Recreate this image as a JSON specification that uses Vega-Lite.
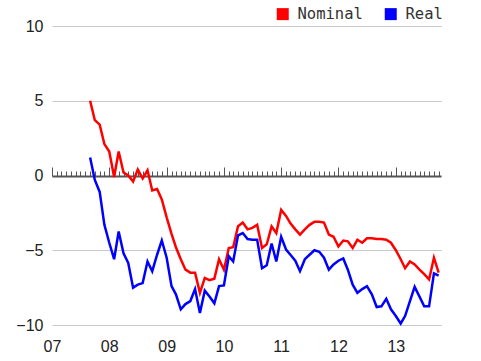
{
  "$schema": "https://vega.github.io/schema/vega-lite/v6.json",
  "width": 389,
  "height": 299,
  "autosize": "none",
  "padding": {"left": 52, "top": 26, "right": 40, "bottom": 36},
  "background": "white",
  "config": {"view": {"stroke": null}},
  "data": {"values": [
    {"d": "2007-09-01", "Nominal": 5.0, "Real": 1.2},
    {"d": "2007-10-01", "Nominal": 3.7, "Real": -0.3},
    {"d": "2007-11-01", "Nominal": 3.4, "Real": -1.1},
    {"d": "2007-12-01", "Nominal": 2.1, "Real": -3.3},
    {"d": "2008-01-01", "Nominal": 1.6, "Real": -4.5},
    {"d": "2008-02-01", "Nominal": -0.1, "Real": -5.6},
    {"d": "2008-03-01", "Nominal": 1.6, "Real": -3.75},
    {"d": "2008-04-01", "Nominal": 0.2, "Real": -5.2},
    {"d": "2008-05-01", "Nominal": 0.0, "Real": -5.85},
    {"d": "2008-06-01", "Nominal": -0.4, "Real": -7.5},
    {"d": "2008-07-01", "Nominal": 0.4, "Real": -7.3},
    {"d": "2008-08-01", "Nominal": -0.2, "Real": -7.2},
    {"d": "2008-09-01", "Nominal": 0.35, "Real": -5.75},
    {"d": "2008-10-01", "Nominal": -1.0, "Real": -6.4},
    {"d": "2008-11-01", "Nominal": -0.9, "Real": -5.3},
    {"d": "2008-12-01", "Nominal": -1.6, "Real": -4.35},
    {"d": "2009-01-01", "Nominal": -2.8, "Real": -5.5},
    {"d": "2009-02-01", "Nominal": -3.9, "Real": -7.4},
    {"d": "2009-03-01", "Nominal": -4.8, "Real": -7.95},
    {"d": "2009-04-01", "Nominal": -5.6, "Real": -8.95},
    {"d": "2009-05-01", "Nominal": -6.3, "Real": -8.6},
    {"d": "2009-06-01", "Nominal": -6.5, "Real": -8.4},
    {"d": "2009-07-01", "Nominal": -6.5, "Real": -7.6},
    {"d": "2009-08-01", "Nominal": -7.85, "Real": -9.2},
    {"d": "2009-09-01", "Nominal": -6.85, "Real": -7.7},
    {"d": "2009-10-01", "Nominal": -7.0, "Real": -8.1},
    {"d": "2009-11-01", "Nominal": -6.9, "Real": -8.55},
    {"d": "2009-12-01", "Nominal": -5.6, "Real": -7.4},
    {"d": "2010-01-01", "Nominal": -6.3, "Real": -7.35},
    {"d": "2010-02-01", "Nominal": -4.85, "Real": -5.4},
    {"d": "2010-03-01", "Nominal": -4.8, "Real": -5.75},
    {"d": "2010-04-01", "Nominal": -3.4, "Real": -4.0},
    {"d": "2010-05-01", "Nominal": -3.15, "Real": -3.85},
    {"d": "2010-06-01", "Nominal": -3.6, "Real": -4.25},
    {"d": "2010-07-01", "Nominal": -3.5, "Real": -4.3},
    {"d": "2010-08-01", "Nominal": -3.3, "Real": -4.3},
    {"d": "2010-09-01", "Nominal": -4.85, "Real": -6.2},
    {"d": "2010-10-01", "Nominal": -4.6, "Real": -6.0},
    {"d": "2010-11-01", "Nominal": -3.4, "Real": -4.55},
    {"d": "2010-12-01", "Nominal": -3.85, "Real": -5.75},
    {"d": "2011-01-01", "Nominal": -2.3, "Real": -4.1},
    {"d": "2011-02-01", "Nominal": -2.7, "Real": -4.95},
    {"d": "2011-03-01", "Nominal": -3.2, "Real": -5.3},
    {"d": "2011-04-01", "Nominal": -3.6, "Real": -5.7},
    {"d": "2011-05-01", "Nominal": -3.95, "Real": -6.4},
    {"d": "2011-06-01", "Nominal": -3.6, "Real": -5.6},
    {"d": "2011-07-01", "Nominal": -3.3, "Real": -5.3},
    {"d": "2011-08-01", "Nominal": -3.1, "Real": -5.0},
    {"d": "2011-09-01", "Nominal": -3.1, "Real": -5.1},
    {"d": "2011-10-01", "Nominal": -3.15, "Real": -5.5},
    {"d": "2011-11-01", "Nominal": -3.95, "Real": -6.3},
    {"d": "2011-12-01", "Nominal": -4.1, "Real": -5.95},
    {"d": "2012-01-01", "Nominal": -4.75, "Real": -5.7},
    {"d": "2012-02-01", "Nominal": -4.35, "Real": -5.55},
    {"d": "2012-03-01", "Nominal": -4.4, "Real": -6.3},
    {"d": "2012-04-01", "Nominal": -4.85, "Real": -7.3},
    {"d": "2012-05-01", "Nominal": -4.3, "Real": -7.85},
    {"d": "2012-06-01", "Nominal": -4.5, "Real": -7.6},
    {"d": "2012-07-01", "Nominal": -4.2, "Real": -7.4},
    {"d": "2012-08-01", "Nominal": -4.2, "Real": -7.95},
    {"d": "2012-09-01", "Nominal": -4.25, "Real": -8.8},
    {"d": "2012-10-01", "Nominal": -4.25, "Real": -8.75},
    {"d": "2012-11-01", "Nominal": -4.3, "Real": -8.25},
    {"d": "2012-12-01", "Nominal": -4.5, "Real": -8.95},
    {"d": "2013-01-01", "Nominal": -5.0, "Real": -9.4},
    {"d": "2013-02-01", "Nominal": -5.6, "Real": -9.9},
    {"d": "2013-03-01", "Nominal": -6.2, "Real": -9.4},
    {"d": "2013-04-01", "Nominal": -5.75, "Real": -8.4},
    {"d": "2013-05-01", "Nominal": -5.95, "Real": -7.45},
    {"d": "2013-06-01", "Nominal": -6.3, "Real": -8.1},
    {"d": "2013-07-01", "Nominal": -6.6, "Real": -8.75},
    {"d": "2013-08-01", "Nominal": -6.95, "Real": -8.75},
    {"d": "2013-09-01", "Nominal": -5.5, "Real": -6.55},
    {"d": "2013-10-01", "Nominal": -6.5, "Real": -6.7}
  ]},
  "transform": [{"fold": ["Nominal", "Real"], "as": ["series", "value"]}],
  "encoding": {
    "y": {
      "field": "value", "type": "quantitative",
      "scale": {"domain": [-10, 10], "nice": false, "zero": false},
      "axis": {
        "title": null, "values": [-10, -5, 0, 5, 10], "grid": true, "gridColor": "#c8c8c8", "gridWidth": 1,
        "domain": false, "ticks": false, "labelPadding": 9,
        "labelFont": "Liberation Sans", "labelFontSize": 16, "labelColor": "#222"
      }
    }
  },
  "layer": [
    {
      "mark": {"type": "line", "opacity": 0},
      "encoding": {
        "x": {
          "field": "d", "type": "temporal",
          "scale": {"domain": [{"year": 2007, "month": 1, "date": 1}, {"year": 2013, "month": 10, "date": 16}]},
          "axis": {
            "orient": "top", "offset": -150, "title": null, "labels": false, "grid": false,
            "domain": true, "domainColor": "#555", "domainWidth": 2,
            "ticks": true, "tickColor": "#555", "tickWidth": 1,
            "tickSize": {"condition": {"test": "month(datum.value) === 0", "value": 9}, "value": 5},
            "tickCount": {"interval": "month", "step": 1}
          }
        },
        "detail": {"field": "series"}
      }
    },
    {
      "mark": {"type": "line", "strokeWidth": 2.5},
      "encoding": {
        "x": {
          "field": "d", "type": "temporal",
          "scale": {"domain": [{"year": 2007, "month": 1, "date": 1}, {"year": 2013, "month": 10, "date": 16}]},
          "axis": {
            "orient": "bottom", "title": null, "format": "%y", "grid": false, "domain": false, "ticks": false,
            "tickCount": {"interval": "year", "step": 1}, "labelPadding": 13, "labelFlush": false,
            "labelFont": "Liberation Sans", "labelFontSize": 16, "labelColor": "#222"
          }
        },
        "color": {
          "field": "series", "type": "nominal",
          "scale": {"domain": ["Nominal", "Real"], "range": ["#ff0000", "#0000ff"]},
          "legend": {
            "title": null, "orient": "none", "legendX": 223, "legendY": -20, "direction": "horizontal",
            "padding": 0, "symbolType": "square", "symbolSize": 144, "symbolStrokeWidth": 0,
            "labelFont": "DejaVu Sans Mono", "labelFontSize": 15.5, "labelColor": "#333",
            "labelOffset": 7, "columnPadding": 20,
            "encode": {"symbols": {"update": {"fill": {"scale": "color", "field": "value"}, "stroke": {"value": "transparent"}}}}
          }
        }
      }
    }
  ],
  "resolve": {"axis": {"x": "independent"}}
}
